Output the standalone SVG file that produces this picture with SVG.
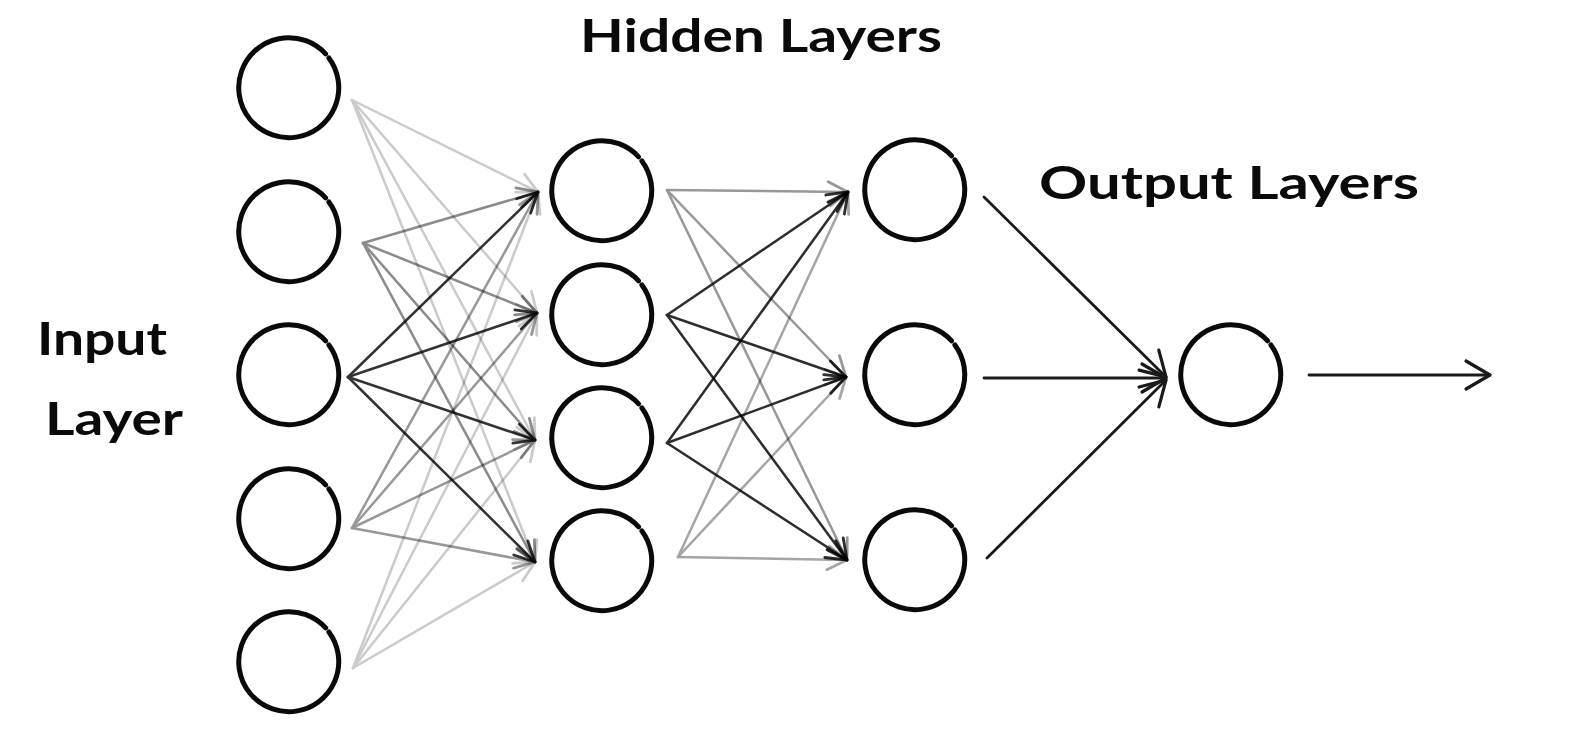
<svg xmlns="http://www.w3.org/2000/svg" xmlns:xlink="http://www.w3.org/1999/xlink" width="1574" height="741" viewBox="0 0 1574 741">
  <style>
    .ring { fill: none; stroke: #0a0a0a; stroke-width: 5; stroke-linecap: round; }
    .label { font-family: "Lato", "Noto Sans", "Liberation Sans", sans-serif; font-size: 46px; font-weight: bold; fill: #0a0a0a; }
    .edge { fill: none; stroke: #000; stroke-width: 2.5; stroke-linecap: round; marker-end: url(#head); }
    .bold { fill: none; stroke: #1a1a1a; stroke-width: 2.8; stroke-linecap: round; marker-end: url(#head-lg); }
  </style>
  <defs>
    <!-- open ring with a small break at the upper right -->
    <path id="ring" d="M 39.9,-30.1 A 50 50 0 1 1 36.6,-34.1"/>
    <marker id="head" markerUnits="userSpaceOnUse" orient="auto" overflow="visible" markerWidth="1" markerHeight="1">
      <path d="M -20,-10 L 0,0 L -20,10" fill="none" stroke="#000" stroke-width="2.8" stroke-linecap="round" stroke-linejoin="round"/>
    </marker>
    <marker id="head-lg" markerUnits="userSpaceOnUse" orient="auto" overflow="visible" markerWidth="1" markerHeight="1">
      <path d="M -24,-14 L 0,0 L -24,14" fill="none" stroke="#1a1a1a" stroke-width="3.2" stroke-linecap="round" stroke-linejoin="round"/>
    </marker>
  </defs>
  <rect width="1574" height="741" fill="#ffffff"/>

  <!-- labels -->
  <g id="labels">
    <text class="label" x="580" y="52" textLength="362" lengthAdjust="spacingAndGlyphs">Hidden Layers</text>
    <text class="label" x="1039" y="199" textLength="380" lengthAdjust="spacingAndGlyphs">Output Layers</text>
    <text class="label" x="37" y="355" textLength="130" lengthAdjust="spacingAndGlyphs">Input</text>
    <text class="label" x="45" y="435" textLength="138" lengthAdjust="spacingAndGlyphs">Layer</text>
  </g>

  <!-- connectors -->
  <g id="connectors">
    <!-- input layer to first hidden layer -->
    <g id="from-in1" opacity="0.2">
      <line class="edge" x1="352" y1="100" x2="538" y2="192"/>
      <line class="edge" x1="352" y1="100" x2="537" y2="313"/>
      <line class="edge" x1="352" y1="100" x2="535" y2="440"/>
      <line class="edge" x1="352" y1="100" x2="535" y2="562"/>
    </g>
    <g id="from-in2" opacity="0.45">
      <line class="edge" x1="363" y1="243" x2="538" y2="192"/>
      <line class="edge" x1="363" y1="243" x2="537" y2="313"/>
      <line class="edge" x1="363" y1="243" x2="535" y2="440"/>
      <line class="edge" x1="363" y1="243" x2="535" y2="562"/>
    </g>
    <g id="from-in3" opacity="0.8">
      <line class="edge" x1="348" y1="377" x2="538" y2="192"/>
      <line class="edge" x1="348" y1="377" x2="537" y2="313"/>
      <line class="edge" x1="348" y1="377" x2="535" y2="440"/>
      <line class="edge" x1="348" y1="377" x2="535" y2="562"/>
    </g>
    <g id="from-in4" opacity="0.4">
      <line class="edge" x1="352" y1="528" x2="538" y2="192"/>
      <line class="edge" x1="352" y1="528" x2="537" y2="313"/>
      <line class="edge" x1="352" y1="528" x2="535" y2="440"/>
      <line class="edge" x1="352" y1="528" x2="535" y2="562"/>
    </g>
    <g id="from-in5" opacity="0.2">
      <line class="edge" x1="353" y1="668" x2="538" y2="192"/>
      <line class="edge" x1="353" y1="668" x2="537" y2="313"/>
      <line class="edge" x1="353" y1="668" x2="535" y2="440"/>
      <line class="edge" x1="353" y1="668" x2="535" y2="562"/>
    </g>

    <!-- first hidden layer to second hidden layer -->
    <g id="from-h1a" opacity="0.4">
      <line class="edge" x1="667" y1="190" x2="848" y2="192"/>
      <line class="edge" x1="667" y1="190" x2="846" y2="377"/>
      <line class="edge" x1="667" y1="190" x2="847" y2="560"/>
    </g>
    <g id="from-h1b" opacity="0.82">
      <line class="edge" x1="667" y1="315" x2="848" y2="192"/>
      <line class="edge" x1="667" y1="315" x2="846" y2="377"/>
      <line class="edge" x1="667" y1="315" x2="847" y2="560"/>
    </g>
    <g id="from-h1c" opacity="0.82">
      <line class="edge" x1="667" y1="443" x2="848" y2="192"/>
      <line class="edge" x1="667" y1="443" x2="846" y2="377"/>
      <line class="edge" x1="667" y1="443" x2="847" y2="560"/>
    </g>
    <g id="from-h1d" opacity="0.35">
      <line class="edge" x1="678" y1="557" x2="848" y2="192"/>
      <line class="edge" x1="678" y1="557" x2="846" y2="377"/>
      <line class="edge" x1="678" y1="557" x2="847" y2="560"/>
    </g>

    <!-- second hidden layer to output -->
    <g id="to-output">
      <line class="bold" x1="984" y1="197" x2="1166" y2="377"/>
      <line class="bold" x1="984" y1="378" x2="1166" y2="378"/>
      <line class="bold" x1="987" y1="558" x2="1166" y2="380"/>
      <line class="bold" x1="1309" y1="375" x2="1490" y2="375"/>
    </g>
  </g>

  <!-- input layer -->
  <g id="in1"><use xlink:href="#ring" class="ring" x="289" y="88"/></g>
  <g id="in2"><use xlink:href="#ring" class="ring" x="289" y="232"/></g>
  <g id="in3"><use xlink:href="#ring" class="ring" x="289" y="375"/></g>
  <g id="in4"><use xlink:href="#ring" class="ring" x="289" y="519"/></g>
  <g id="in5"><use xlink:href="#ring" class="ring" x="289" y="662"/></g>

  <!-- first hidden layer -->
  <g id="h1a"><use xlink:href="#ring" class="ring" x="602" y="191"/></g>
  <g id="h1b"><use xlink:href="#ring" class="ring" x="602" y="315"/></g>
  <g id="h1c"><use xlink:href="#ring" class="ring" x="602" y="438"/></g>
  <g id="h1d"><use xlink:href="#ring" class="ring" x="602" y="561"/></g>

  <!-- second hidden layer -->
  <g id="h2a"><use xlink:href="#ring" class="ring" x="915" y="190"/></g>
  <g id="h2b"><use xlink:href="#ring" class="ring" x="915" y="375"/></g>
  <g id="h2c"><use xlink:href="#ring" class="ring" x="915" y="560"/></g>

  <!-- output node -->
  <g id="out"><use xlink:href="#ring" class="ring" x="1231" y="375"/></g>
</svg>
